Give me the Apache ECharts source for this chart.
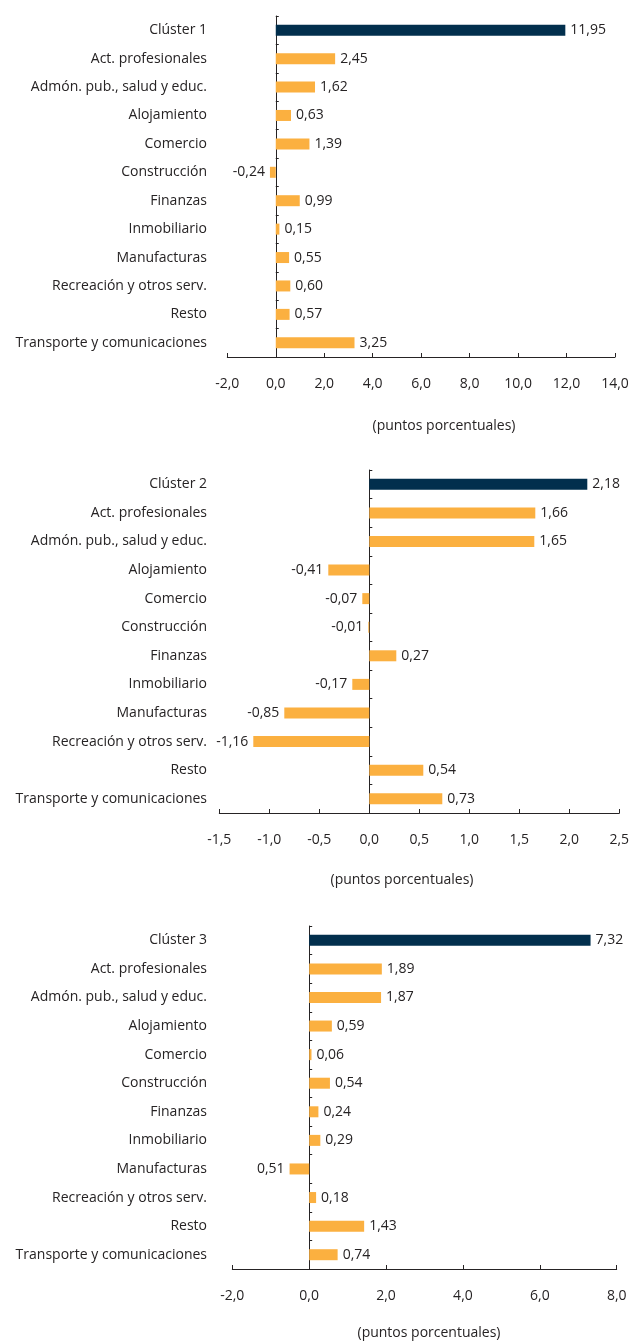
<!DOCTYPE html>
<html>
<head>
<meta charset="utf-8">
<script src="https://cdn.jsdelivr.net/npm/echarts@6/dist/echarts.min.js"></script>
<style>
html,body{margin:0;padding:0;background:#fff;}
#c{width:630px;height:1344px;}
</style>
</head>
<body>
<div id="c"></div>
<script>
const sectors = ['Act. profesionales','Admón. pub., salud y educ.','Alojamiento','Comercio','Construcción','Finanzas','Inmobiliario','Manufacturas','Recreación y otros serv.','Resto','Transporte y comunicaciones'];
const categories1 = ['Clúster 1'].concat(sectors);
const categories2 = ['Clúster 2'].concat(sectors);
const categories3 = ['Clúster 3'].concat(sectors);
const values1 = [11.95, 2.45, 1.62, 0.63, 1.39, -0.24, 0.99, 0.15, 0.55, 0.60, 0.57, 3.25];
const values2 = [2.18, 1.66, 1.65, -0.41, -0.07, -0.01, 0.27, -0.17, -0.85, -1.16, 0.54, 0.73];
const values3 = [7.32, 1.89, 1.87, 0.59, 0.06, 0.54, 0.24, 0.29, -0.51, 0.18, 1.43, 0.74];
const labelOverrides3 = { 'Manufacturas': '0,51' };
const axis1 = {min: -2, max: 14, interval: 2};
const axis2 = {min: -1.5, max: 2.5, interval: 0.5};
const axis3 = {min: -2, max: 8, interval: 2};
const axisTitle = '(puntos porcentuales)';

const NAVY = '#022f4d';
const ORANGE = '#fbb040';
const TXT = '#262324';
const FONT = 'Open Sans';
const FS = 14;

const chart = echarts.init(document.getElementById('c'));

const grids = [
  {left: 227.3, top: 16, width: 387.7, height: 341, outerBoundsMode: 'none', containLabel: false},
  {left: 219.3, top: 470, width: 400, height: 343, outerBoundsMode: 'none', containLabel: false},
  {left: 232.3, top: 926, width: 384.4, height: 343, outerBoundsMode: 'none', containLabel: false}
];
const labelRight = 207;

function fmt(v, d) { return v.toFixed(d).replace('.', ','); }

const cats = [categories1, categories2, categories3];
const vals = [values1, values2, values3];
const axes = [axis1, axis2, axis3];

const xAxis = [], yAxis = [], series = [];
for (let i = 0; i < 3; i++) {
  xAxis.push({
    type: 'value', gridIndex: i, min: axes[i].min, max: axes[i].max, interval: axes[i].interval,
    splitLine: {show: false},
    axisLine: {show: true, lineStyle: {color: TXT, width: 1}},
    axisTick: {show: true, inside: true, length: 4, lineStyle: {color: TXT}},
    axisLabel: {color: TXT, fontFamily: FONT, fontSize: FS, margin: 20, formatter: v => fmt(v, 1)}
  });
  yAxis.push({
    type: 'category', gridIndex: i, data: cats[i], inverse: true,
    axisLine: {show: true, onZero: true, lineStyle: {color: TXT, width: 1}},
    axisTick: {show: true, inside: true, length: 3, lineStyle: {color: TXT}},
    axisLabel: {color: TXT, fontFamily: FONT, fontSize: FS, margin: grids[i].left - labelRight}
  });
  const catList = cats[i];
  series.push({
    type: 'bar', xAxisIndex: i, yAxisIndex: i, barWidth: 11,
    data: vals[i].map((v, j) => ({
      value: v,
      itemStyle: {color: j === 0 ? NAVY : ORANGE},
      label: {position: v < 0 ? 'left' : 'right'}
    })),
    label: {
      show: true, distance: 5, color: TXT, fontFamily: FONT, fontSize: FS,
      formatter: p => {
        if (i === 2 && labelOverrides3[catList[p.dataIndex]]) return labelOverrides3[catList[p.dataIndex]];
        return fmt(p.value, 2);
      }
    },
    animation: false
  });
}

const titlePos = [[444, 426], [402, 880], [429, 1333]];

chart.setOption({
  animation: false,
  grid: grids,
  xAxis: xAxis,
  yAxis: yAxis,
  series: series,
  graphic: titlePos.map(p => ({
    type: 'text', x: p[0], y: p[1],
    style: {text: axisTitle, fill: TXT, font: FS + 'px "' + FONT + '"', textAlign: 'center', textVerticalAlign: 'middle'}
  }))
});
</script>
</body>
</html>
